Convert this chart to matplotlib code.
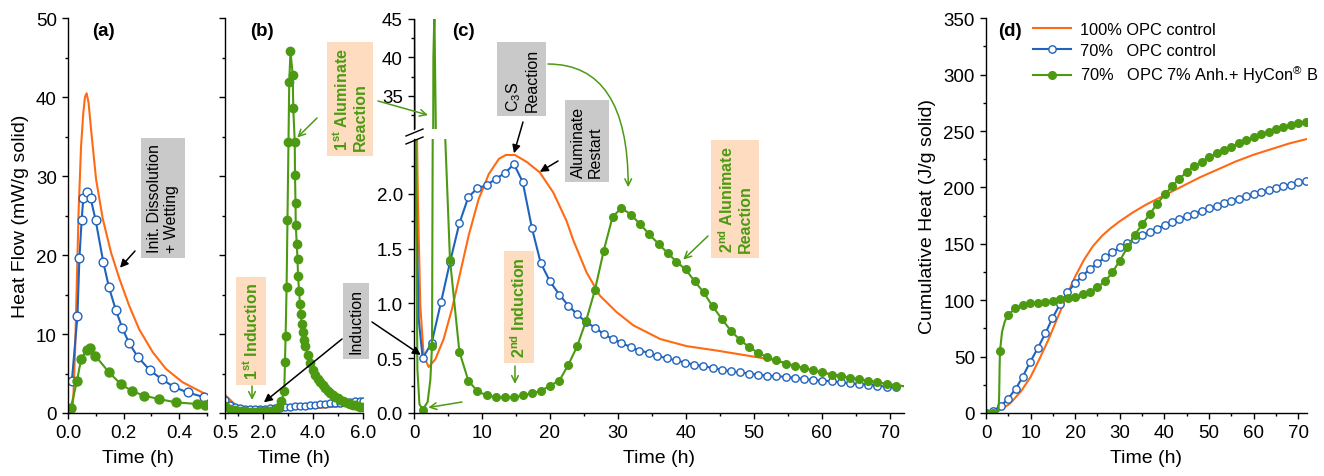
import matplotlib
matplotlib.use("Agg")
import matplotlib.pyplot as plt
from matplotlib.ticker import MultipleLocator, FixedLocator
from matplotlib.lines import Line2D

plt.rcParams["font.family"] = ["Liberation Sans", "DejaVu Sans"]
plt.rcParams["mathtext.fontset"] = "custom"
plt.rcParams["mathtext.rm"] = "Liberation Sans"
plt.rcParams["mathtext.it"] = "Liberation Sans:italic"
plt.rcParams["mathtext.bf"] = "Liberation Sans:bold"
plt.rcParams["mathtext.default"] = "regular"

ORANGE = "#FF6A13"
BLUE = "#1F63BD"
GREEN = "#4C9A12"
PEACH = "#FDDCC0"
GRAY = "#C9C9C9"

# -------------------------------
# (a) first 0.5 h
# -------------------------------
a_orange_t = [0.0, 0.014, 0.019, 0.026, 0.032, 0.038, 0.047, 0.055, 0.061, 0.067, 0.074, 0.083,
              0.101, 0.125, 0.155, 0.185, 0.22, 0.256, 0.305, 0.352, 0.412, 0.5]
a_orange_v = [0.0, 0.0, 1.8, 8.5, 17.0, 25.4, 33.8, 38.0, 40.0, 40.5, 39.3, 35.9,
              29.6, 24.6, 20.3, 17.0, 13.6, 10.6, 7.7, 5.6, 3.9, 2.3]
a_blue_t = [0.014, 0.034, 0.041, 0.049, 0.055, 0.0695, 0.0815, 0.0995, 0.127, 0.1475,
            0.1715, 0.195, 0.219, 0.251, 0.295, 0.337, 0.381, 0.430, 0.490]
a_blue_v = [4.1, 12.3, 19.6, 24.4, 27.2, 28.0, 27.2, 24.4, 19.1, 15.9,
            13.1, 10.8, 8.9, 7.1, 5.4, 4.3, 3.3, 2.6, 2.0]
a_green_t = [0.0096, 0.032, 0.047, 0.067, 0.079, 0.098, 0.1475, 0.1895, 0.229, 0.273,
             0.327, 0.387, 0.465, 0.493]
a_green_v = [0.59, 4.0, 6.8, 8.0, 8.2, 7.25, 5.15, 3.67, 2.8, 2.2,
             1.77, 1.35, 1.14, 1.0]

# -------------------------------
# (b) 0.5 - 6 h
# -------------------------------
b_orange_t = [0.5, 0.93, 1.42, 2.16, 3.14, 4.36, 5.59, 6.0]
b_orange_v = [2.3, 0.98, 0.52, 0.42, 0.49, 0.675, 0.95, 1.05]
b_blue_t = [0.5, 0.7, 0.9, 1.1, 1.3, 1.5, 1.7, 1.9, 2.1, 2.3, 2.5, 2.7, 2.9, 3.1, 3.3,
            3.5, 3.7, 3.9, 4.1, 4.3, 4.5, 4.7, 4.9, 5.1, 5.3, 5.5, 5.7, 5.9, 6.0]
b_blue_v = [1.6, 1.05, 0.75, 0.6, 0.52, 0.5, 0.5, 0.52, 0.55, 0.58, 0.62, 0.66, 0.71, 0.77, 0.83,
            0.89, 0.95, 1.0, 1.06, 1.12, 1.17, 1.22, 1.28, 1.33, 1.38, 1.43, 1.48, 1.53, 1.56]
b_green_t = [0.5, 0.7, 0.9, 1.1, 1.3, 1.5, 1.7, 1.9, 2.1, 2.3, 2.5, 2.65, 2.75,
             2.863, 2.89, 2.915, 2.955, 2.99, 3.03, 3.06, 3.11, 3.20, 3.22, 3.28, 3.29,
             3.31, 3.32, 3.36, 3.39, 3.41, 3.45, 3.49, 3.52, 3.56, 3.60, 3.65,
             3.7, 3.8, 3.9, 4.0, 4.1, 4.2, 4.3, 4.4, 4.5, 4.6, 4.7, 4.8, 4.9, 5.0,
             5.1, 5.2, 5.3, 5.4, 5.5, 5.6, 5.7, 5.8, 5.9, 6.0]
b_green_v = [0.9, 0.55, 0.35, 0.25, 0.2, 0.18, 0.18, 0.2, 0.22, 0.28, 0.4, 0.8, 1.5,
             2.8, 6.5, 9.7, 16.0, 24.5, 34.3, 41.9, 45.8, 42.8, 38.6, 34.3, 30.1,
             26.6, 23.8, 21.4, 19.5, 17.4, 15.5, 13.8, 12.5, 11.3, 10.2, 9.2,
             8.5, 7.3, 6.3, 5.5, 4.8, 4.3, 3.9, 3.5, 3.15, 2.85, 2.55, 2.3, 2.05, 1.85,
             1.68, 1.54, 1.4, 1.28, 1.17, 1.07, 0.97, 0.88, 0.79, 0.7]

# -------------------------------
# (c) 0 - 72 h (broken axis)
# -------------------------------
c_orange_t = [0.2, 0.59, 0.93, 1.42, 2.16, 3.14, 4.36, 5.59, 6.8, 8.04, 9.5, 11.0, 12.5,
              13.5, 14.85, 16.6, 18.5, 20.5, 22.45, 23.4, 25.4, 27.35, 29.8, 32.25, 36.2,
              40.1, 44.5, 49.4, 53.3, 56.0, 60.0, 64.1, 68.0, 72.0]
c_orange_v = [3.5, 1.89, 0.98, 0.52, 0.42, 0.49, 0.675, 0.95, 1.28, 1.62, 1.95, 2.18, 2.32,
              2.354, 2.354, 2.29, 2.195, 2.01, 1.75, 1.58, 1.28, 1.07, 0.92, 0.80, 0.675,
              0.61, 0.57, 0.52, 0.48, 0.43, 0.37, 0.32, 0.28, 0.245]
c_blue_t = [1.27, 2.6, 3.97, 5.29, 6.67, 7.99, 9.31, 10.69, 12.01, 13.38, 14.7, 15.98,
            17.35, 18.63, 20.0, 21.37, 22.7, 24.0, 25.3, 26.6, 27.9, 29.2, 30.5, 31.9,
            33.1, 34.5, 35.8, 37.2, 38.5, 39.9, 41.2, 42.5, 43.9, 45.25, 46.6, 47.9,
            49.3, 50.6, 51.95, 53.3, 54.7, 56.0, 57.35, 58.7, 60.0, 61.4, 62.75, 64.1,
            65.4, 66.8, 68.1, 69.5, 70.85]
c_blue_v = [0.50, 0.64, 1.01, 1.375, 1.73, 1.97, 2.05, 2.08, 2.135, 2.19, 2.27, 2.11,
            1.685, 1.37, 1.20, 1.08, 0.98, 0.90, 0.83, 0.78, 0.72, 0.675, 0.64, 0.60,
            0.57, 0.55, 0.52, 0.50, 0.48, 0.46, 0.44, 0.43, 0.41, 0.395, 0.38, 0.37,
            0.36, 0.35, 0.34, 0.335, 0.33, 0.32, 0.31, 0.30, 0.295, 0.29, 0.28, 0.27,
            0.265, 0.26, 0.25, 0.24, 0.235]
c_blue_extra_t = [0.0, 0.12, 0.7]
c_blue_extra_v = [50.0, 2.5, 0.85]
c_green_t = [1.27, 2.65, 5.29, 6.67, 7.99, 9.31, 10.69, 12.01, 13.38, 14.7, 15.98, 17.35,
             18.63, 20.0, 21.37, 22.7, 24.0, 25.3, 26.6, 27.9, 29.2, 30.5, 31.9, 33.3,
             34.6, 36.0, 37.3, 38.6, 39.95, 41.3, 42.6, 43.9, 45.25, 46.6, 47.9, 49.3,
             50.6, 51.95, 53.3, 54.7, 56.0, 57.35, 58.7, 60.0, 61.4, 62.75, 64.1, 65.4,
             66.8, 68.1, 69.5, 70.85]
c_green_v = [0.03, 0.61, 1.40, 0.56, 0.295, 0.20, 0.16, 0.143, 0.143, 0.143, 0.16, 0.18,
             0.20, 0.25, 0.295, 0.44, 0.61, 0.84, 1.12, 1.48, 1.79, 1.87, 1.81, 1.72,
             1.63, 1.54, 1.46, 1.38, 1.31, 1.20, 1.10, 0.975, 0.86, 0.75, 0.67, 0.60,
             0.55, 0.51, 0.48, 0.45, 0.43, 0.41, 0.39, 0.37, 0.35, 0.34, 0.32, 0.31,
             0.295, 0.28, 0.265, 0.25]
c_green_extra_t = [0.0, 0.25, 0.5, 0.8, 2.0, 2.4, 2.75, 2.85, 3.0, 3.19, 3.4, 3.95, 4.6, 72.0]
c_green_extra_v = [50.0, 2.5, 0.4, 0.08, 0.1, 0.3, 2.5, 40.0, 45.8, 32.0, 18.0, 5.5, 2.5, 0.245]

# -------------------------------
# (d) cumulative heat
# -------------------------------
d_orange_t = [0, 2, 4, 5, 6, 8, 10, 12, 14, 16, 18, 20, 22, 24, 26, 28, 30, 33, 36, 40,
              44, 48, 52, 56, 60, 64, 68, 72]
d_orange_v = [0, 1, 5, 7.2, 11, 20, 32, 48, 65, 84, 103, 121, 136, 148, 157, 164, 170, 178,
              185, 193, 201, 209, 216, 223, 229, 234, 239, 243]
d_blue_t = [0.0, 1.5, 3.29, 4.86, 6.66, 8.23, 9.87, 11.59, 13.31, 14.88, 16.6, 18.25, 19.97,
            21.61, 23.33, 24.97, 26.7, 28.34, 29.99, 31.71, 33.36, 35.08, 36.72, 38.37,
            40.09, 41.73, 43.38, 45.1, 46.74, 48.39, 50.03, 51.76, 53.4, 55.05, 56.69,
            58.41, 60.06, 61.78, 63.42, 65.07, 66.71, 68.43, 70.07, 71.8]
d_blue_v = [0.0, 2.1, 5.9, 12.4, 21.3, 32.2, 44.9, 57.3, 70.6, 83.9, 96.6, 106.9, 114.9,
            121.7, 127.6, 132.9, 137.9, 142.4, 146.8, 150.6, 154.2, 157.7, 160.7, 163.6,
            166.6, 169.5, 171.9, 174.3, 176.9, 179.3, 181.6, 183.7, 186.1, 188.1, 190.2,
            192.0, 194.0, 196.1, 197.9, 199.7, 201.1, 202.6, 204.4, 205.6]
d_green_t = [0.0, 1.5, 3.14, 4.86, 6.58, 8.23, 9.95, 11.59, 13.31, 14.95, 16.68, 18.32,
             19.97, 21.69, 23.33, 24.97, 26.7, 28.34, 29.99, 31.71, 33.36, 35.08, 36.72,
             38.37, 40.09, 41.73, 43.38, 45.1, 46.74, 48.39, 50.03, 51.76, 53.4, 55.05,
             56.69, 58.41, 60.06, 61.78, 63.42, 65.07, 66.71, 68.43, 70.07, 71.7]
d_green_v = [0.0, 0.3, 55.2, 86.8, 92.7, 95.7, 97.2, 97.8, 98.6, 99.5, 100.7, 101.9,
             103.1, 105.2, 107.5, 111.4, 116.7, 124.7, 135.0, 146.8, 158.0, 167.5, 176.3,
             185.5, 193.8, 200.9, 207.9, 213.8, 219.1, 223.0, 226.6, 230.4, 233.3, 236.3,
             239.2, 241.9, 244.8, 247.2, 249.3, 251.6, 253.7, 255.5, 257.6, 258.0]
d_green_extra_t = [2.8, 2.95, 3.05, 3.6, 4.2]
d_green_extra_v = [1.5, 15.0, 40.0, 72.0, 81.0]

legend_labels = ["100% OPC control", "70%   OPC control",
                 "70%   OPC 7% Anh.+ HyCon$^{®}$ B"]


def merged(t1, v1, t2, v2):
    pairs = sorted(zip(list(t1) + list(t2), list(v1) + list(v2)))
    return [p[0] for p in pairs], [p[1] for p in pairs]


W, H = 1324, 477
fig = plt.figure(figsize=(W / 100, H / 100), dpi=100)


def box(left, right, top, bottom):
    return [left / W, 1 - bottom / H, (right - left) / W, (bottom - top) / H]


def fx(x):
    return x / W


def fy(y):
    return 1 - y / H


ax_a = fig.add_axes(box(68, 207, 19.3, 414))
ax_b = fig.add_axes(box(225, 363, 19.3, 414))
ax_cu = fig.add_axes(box(414, 903.6, 19.6, 130))
ax_cl = fig.add_axes(box(414, 903.6, 140, 414))
ax_d = fig.add_axes(box(986, 1307, 19.3, 414))


def style(ax):
    for s in ["top", "right"]:
        ax.spines[s].set_visible(False)
    for s in ["left", "bottom"]:
        ax.spines[s].set_linewidth(1.0)
    ax.tick_params(which="major", direction="out", length=4.5, width=1.0, labelsize=13.5)
    ax.tick_params(which="minor", direction="out", length=2.5, width=1.0)


for ax in [ax_a, ax_b, ax_cu, ax_cl, ax_d]:
    style(ax)

open_c = dict(marker="o", mfc="white", mec=BLUE, mew=1.0)
fill_c = dict(marker="o", mfc=GREEN, mec=GREEN)

# (a)
ax_a.plot(a_orange_t, a_orange_v, color=ORANGE, lw=1.5)
ax_a.plot(a_blue_t, a_blue_v, color=BLUE, lw=1.5, ms=6.3, **open_c)
ax_a.plot(a_green_t, a_green_v, color=GREEN, lw=1.5, ms=6.5, **fill_c)
ax_a.set_xlim(0, 0.5)
ax_a.set_ylim(0, 50)
ax_a.xaxis.set_major_locator(FixedLocator([0.0, 0.2, 0.4]))
ax_a.xaxis.set_minor_locator(FixedLocator([0.1, 0.3, 0.5]))
ax_a.set_xticklabels(["0.0", "0.2", "0.4"])
ax_a.yaxis.set_major_locator(MultipleLocator(10))
ax_a.yaxis.set_minor_locator(MultipleLocator(5))
ax_a.set_ylabel("Heat Flow (mW/g solid)", fontsize=14, labelpad=5)
ax_a.set_xlabel("Time (h)", fontsize=14, labelpad=6)

# (b)
ax_b.plot(b_orange_t, b_orange_v, color=ORANGE, lw=1.5)
ax_b.plot(b_blue_t, b_blue_v, color=BLUE, lw=1.5, ms=5, **open_c)
ax_b.plot(b_green_t, b_green_v, color=GREEN, lw=1.5, ms=6, **fill_c)
ax_b.set_xlim(0.5, 6.0)
ax_b.set_ylim(0, 50)
ax_b.xaxis.set_major_locator(FixedLocator([0.5, 2.0, 4.0, 6.0]))
ax_b.xaxis.set_minor_locator(FixedLocator([1.0, 3.0, 5.0]))
ax_b.set_xticklabels(["0.5", "2.0", "4.0", "6.0"])
ax_b.yaxis.set_major_locator(MultipleLocator(10))
ax_b.yaxis.set_minor_locator(MultipleLocator(5))
ax_b.tick_params(labelleft=False)
ax_b.set_xlabel("Time (h)", fontsize=14, labelpad=6)

# (c) broken axis, same data in both parts
c_blue_line = merged(c_blue_t, c_blue_v, c_blue_extra_t, c_blue_extra_v)
c_green_line = merged(c_green_t, c_green_v, c_green_extra_t, c_green_extra_v)
for ax in [ax_cu, ax_cl]:
    ax.plot(c_orange_t, c_orange_v, color=ORANGE, lw=1.5)
    ax.plot(c_blue_line[0], c_blue_line[1], color=BLUE, lw=1.5)
    ax.plot(c_blue_t, c_blue_v, ls="none", ms=5.3, **open_c)
    ax.plot(c_green_line[0], c_green_line[1], color=GREEN, lw=1.5)
    ax.plot(c_green_t, c_green_v, ls="none", ms=5.5, **fill_c)
    ax.set_xlim(0, 72)

ax_cu.set_ylim(30.7, 45)
ax_cu.spines["bottom"].set_visible(False)
ax_cu.tick_params(bottom=False, labelbottom=False, which="both")
ax_cu.yaxis.set_major_locator(FixedLocator([35, 40, 45]))
ax_cu.yaxis.set_minor_locator(FixedLocator([32.5, 37.5, 42.5]))

ax_cl.set_ylim(0, 2.5)
ax_cl.yaxis.set_major_locator(FixedLocator([0.0, 0.5, 1.0, 1.5, 2.0]))
ax_cl.yaxis.set_minor_locator(FixedLocator([0.25, 0.75, 1.25, 1.75, 2.25]))
ax_cl.set_yticklabels(["0.0", "0.5", "1.0", "1.5", "2.0"])
ax_cl.xaxis.set_major_locator(MultipleLocator(10))
ax_cl.xaxis.set_minor_locator(MultipleLocator(5))
ax_cl.set_xlabel("Time (h)", fontsize=14, labelpad=6)

# break marks on the left spine
for y0 in [137, 145]:
    fig.add_artist(Line2D([fx(406), fx(423)], [fy(y0), fy(y0 - 7)],
                          transform=fig.transFigure, color="black", lw=1.0))

# (d)
ax_d.plot(d_orange_t, d_orange_v, color=ORANGE, lw=1.5)
ax_d.plot(d_blue_t, d_blue_v, color=BLUE, lw=1.5, ms=5.3, **open_c)
d_green_line = merged(d_green_t, d_green_v, d_green_extra_t, d_green_extra_v)
ax_d.plot(d_green_line[0], d_green_line[1], color=GREEN, lw=1.5)
ax_d.plot(d_green_t, d_green_v, ls="none", ms=5.5, **fill_c)
ax_d.set_xlim(0, 72)
ax_d.set_ylim(0, 350)
ax_d.xaxis.set_major_locator(MultipleLocator(10))
ax_d.xaxis.set_minor_locator(MultipleLocator(5))
ax_d.yaxis.set_major_locator(MultipleLocator(50))
ax_d.yaxis.set_minor_locator(MultipleLocator(25))
ax_d.set_ylabel("Cumulative Heat (J/g solid)", fontsize=14, labelpad=5)
ax_d.set_xlabel("Time (h)", fontsize=14, labelpad=6)

handles = [Line2D([], [], color=ORANGE, lw=1.5),
           Line2D([], [], color=BLUE, lw=1.5, ms=5.3, **open_c),
           Line2D([], [], color=GREEN, lw=1.5, ms=5.5, **fill_c)]
fig.legend(handles, legend_labels, loc="upper left", bbox_to_anchor=(fx(1033), fy(23)),
           frameon=False, fontsize=11.8, handlelength=2.3, handletextpad=0.55,
           labelspacing=0.36, borderpad=0, borderaxespad=0)

# panel letters
for lab, x in [("(a)", 103), ("(b)", 262), ("(c)", 463), ("(d)", 1010)]:
    fig.text(fx(x), fy(32), lab, fontsize=13.5, fontweight="bold", ha="center", va="center")


# annotation boxes
def note(x, y, s, kind):
    if kind == "gray":
        fig.text(fx(x), fy(y), s, rotation=90, ha="center", va="center", multialignment="left",
                 fontsize=11.5, color="black",
                 bbox=dict(boxstyle="square,pad=0.35", fc=GRAY, ec="none"))
    else:
        fig.text(fx(x), fy(y), s, rotation=90, ha="center", va="center", multialignment="left",
                 fontsize=11.5, color=GREEN, fontweight="bold",
                 bbox=dict(boxstyle="square,pad=0.35", fc=PEACH, ec="none"))


note(163, 199, "Init. Dissolution\n+ Wetting", "gray")
note(350, 100, "1$^{\\mathbf{st}}$ Aluminate\nReaction", "peach")
note(251, 332, "1$^{\\mathbf{st}}$ Induction", "peach")
note(356, 322, "Induction", "gray")
note(522, 80, "C$_3$S\nReaction", "gray")
note(587, 142, "Aluminate\nRestart", "gray")
note(519, 308, "2$^{\\mathbf{nd}}$ Induction", "peach")
note(735, 200, "2$^{\\mathbf{nd}}$ Alunimate\nReaction", "peach")


def arrow(ax, head, tail_px, color, style="-|>", conn="arc3"):
    ax.annotate("", xy=head, xycoords="data", xytext=(fx(tail_px[0]), fy(tail_px[1])),
                textcoords="figure fraction", annotation_clip=False,
                arrowprops=dict(arrowstyle=style, color=color, lw=1.1, shrinkA=0, shrinkB=0,
                                mutation_scale=12, connectionstyle=conn))


arrow(ax_a, (0.187, 18.4), (135, 252), "black")
arrow(ax_b, (3.38, 34.9), (317, 119), GREEN, "->")
arrow(ax_cu, (2.06, 32.5), (378, 102), GREEN, "->")
arrow(ax_b, (1.58, 1.65), (252, 387), GREEN, "->")
arrow(ax_b, (2.05, 1.35), (342, 340), "black")
arrow(ax_cl, (1.0, 0.53), (372, 323), "black")
arrow(ax_cl, (14.7, 2.37), (523, 123), "black")
arrow(ax_cl, (31.5, 2.06), (548, 65), GREEN, "->", "angle3,angleA=0,angleB=90")
arrow(ax_cl, (18.5, 2.2), (558, 162), "black")
arrow(ax_cl, (14.85, 0.265), (515, 367), GREEN, "->")
arrow(ax_cl, (39.6, 1.40), (708, 237), GREEN, "->")
arrow(ax_cl, (2.1, 0.05), (462, 403), GREEN, "->")

fig.savefig("out.png", dpi=100)
